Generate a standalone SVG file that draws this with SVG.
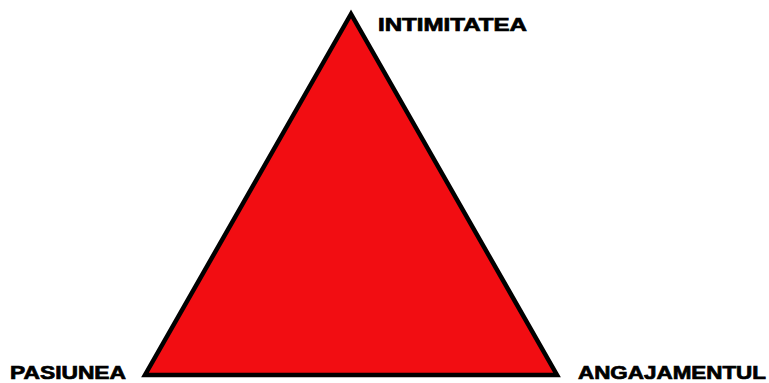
<svg xmlns="http://www.w3.org/2000/svg" width="769" height="383" viewBox="0 0 769 383">
<style>
.lbl{font-family:"Liberation Sans",Arial,sans-serif;font-weight:bold;font-size:18px;fill:#000;stroke:#000;stroke-width:0.7;}
</style>
<rect width="769" height="383" fill="#fff"/>
<g id="triangle">
<polygon points="351,14 145,375 557,375" fill="#f20d12" stroke="#000" stroke-width="4.5" stroke-linejoin="miter"/>
</g>
<g id="intimitatea"><text class="lbl" x="378" y="31" textLength="149" lengthAdjust="spacingAndGlyphs">INTIMITATEA</text></g>
<g id="pasiunea"><text class="lbl" x="10" y="379" textLength="116" lengthAdjust="spacingAndGlyphs">PASIUNEA</text></g>
<g id="angajamentul"><text class="lbl" x="578" y="379" textLength="188" lengthAdjust="spacingAndGlyphs">ANGAJAMENTUL</text></g>
</svg>
